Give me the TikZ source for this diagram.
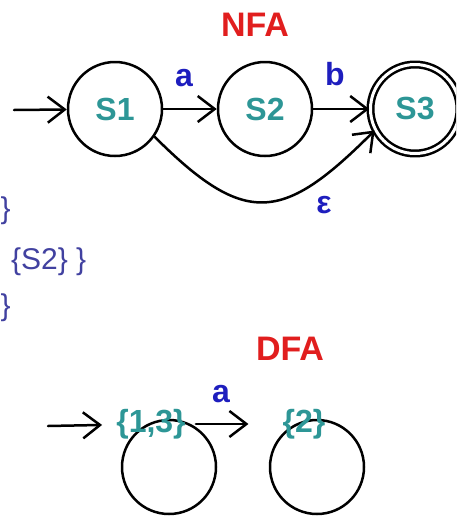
\documentclass[tikz,border=0pt]{standalone}
\usepackage{fontspec}
\setmainfont{Liberation Sans}
\usetikzlibrary{arrows.meta}
\definecolor{titlered}{RGB}{225,30,30}
\definecolor{symblue}{RGB}{30,30,190}
\definecolor{stateteal}{RGB}{45,150,150}
\definecolor{setblue}{RGB}{65,65,160}

\begin{document}
\begin{tikzpicture}[x=1pt, y=1pt, line join=round, line cap=round,
  edge/.style={line width=2.5pt, -{Straight Barb[length=17pt,width=26pt]}},
  ring/.style={circle, draw, line width=2.5pt, minimum size=94pt, inner sep=0pt},
  title/.style={text=titlered, font=\fontsize{34}{34}\selectfont\bfseries},
  sym/.style={text=symblue, font=\fontsize{32}{32}\selectfont\bfseries, inner sep=0pt},
  statename/.style={text=stateteal, font=\fontsize{32}{32}\selectfont\bfseries},
  setname/.style={text=setblue, font=\fontsize{30}{30}\selectfont, inner sep=0pt}]
\clip (0,0) rectangle (456,-517);

% the NFA
\node[title] (nfa) at (255,-25) {NFA};
\node[ring, statename] (S1) at (115,-109) {S1};
\node[ring, statename] (S2) at (265,-109) {S2};
\node[ring, statename, double, double distance=3pt, minimum size=89pt] (S3) at (415,-109) {S3};
\coordinate (nstart) at (14,-110);

\draw[edge] (nstart) -- (S1);
\draw[edge] (S1) -- (S2);
\draw[edge] (S2) -- (S3);
\draw[edge] (S1.-35) to[out=-45, in=-135, looseness=1.5] (S3.-152);

\node[sym] (na) at (184,-78) {a};
\node[sym] (nb) at (335,-74) {b};
\node[sym] (neps) at (324,-205) {ε};

% closure sets
\node[setname, anchor=west] (set1) at (0.5,-211) {\}};
\node[setname, anchor=west] (set2) at (11,-262) {\{S2\} \}};
\node[setname, anchor=west] (set3) at (0.5,-308) {\}};

% the DFA
\node[title] (dfa) at (290,-349) {DFA};
\node[ring] (D1) at (169,-467) {};
\node[ring] (D2) at (317,-467) {};
\node[statename, inner sep=0pt] (L13) at (151,-424) {\{1,3\}};
\node[statename, inner sep=0pt] (L2) at (304,-424) {\{2\}};
\coordinate (dstart) at (48,-426);

\draw[edge, shorten >=14pt] (dstart) -- (L13);
\draw[edge, shorten <=10pt, shorten >=34pt] (L13) -- (L2);
\node[sym] (da) at (221,-394) {a};
\end{tikzpicture}
\end{document}
